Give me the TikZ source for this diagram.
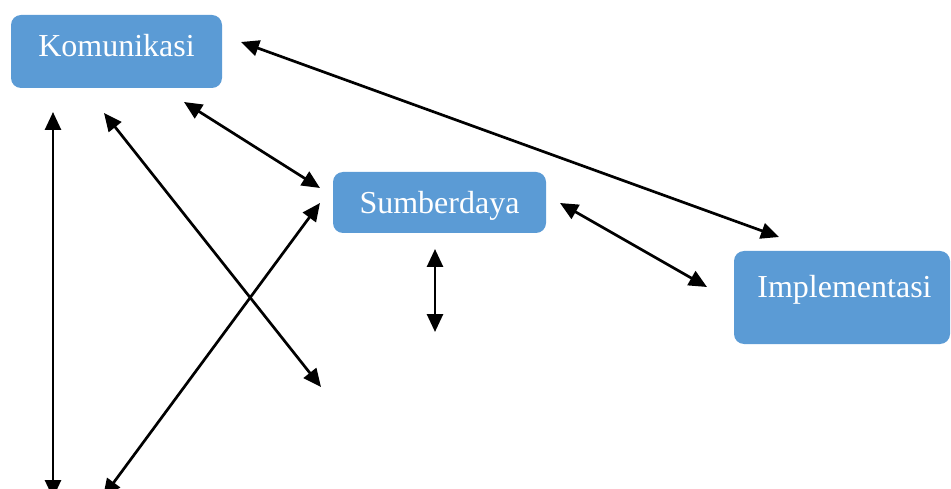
\documentclass[tikz,border=0pt]{standalone}
\usepackage{fontspec}
\setmainfont{Liberation Serif}
\usetikzlibrary{arrows.meta}
\definecolor{boxblue}{HTML}{5B9BD5}
\begin{document}
\begin{tikzpicture}[x=1pt,y=-1pt,
  box/.style={fill=boxblue, rounded corners=10pt, text=white, inner sep=0pt,
    font=\fontsize{32}{38}\selectfont},
  link/.style={{Triangle[length=18pt,width=16pt]}-{Triangle[length=18pt,width=16pt]},
    line width=2.7pt, black}]
\useasboundingbox (0,0) rectangle (951,489);

% boxes
\node[box, minimum width=211pt, minimum height=73pt, text height=25pt, text depth=14pt]
  (kom) at (116.5,51.5) {Komunikasi};
\node[box, minimum width=213pt, minimum height=61pt, text height=24pt, text depth=1pt]
  (sum) at (439.5,202.5) {Sumberdaya};
\node[box, minimum width=216pt, minimum height=93pt, text height=24pt, text depth=23pt]
  (imp) at (842,297.5) {\hspace{5pt}Implementasi};

% connector end points
\coordinate (k1) at (241,42);
\coordinate (k2) at (184,102);
\coordinate (k3) at (104,113);
\coordinate (k4) at (53,112);
\coordinate (s1) at (320,188);
\coordinate (s2) at (320,203);
\coordinate (s3) at (435,249);
\coordinate (s4) at (560,203);
\coordinate (i1) at (779,237);
\coordinate (i2) at (707,287);
\coordinate (f1) at (321,387);
\coordinate (f2) at (53,498);
\coordinate (f3) at (103,497);
\coordinate (f4) at (435,332);

% connectors
\draw[link] (k1) -- (i1);
\draw[link] (k2) -- (s1);
\draw[link] (k3) -- (f1);
\draw[link] (k4) -- (f2);
\draw[link] (s2) -- (f3);
\draw[link] (s3) -- (f4);
\draw[link] (s4) -- (i2);
\end{tikzpicture}
\end{document}
